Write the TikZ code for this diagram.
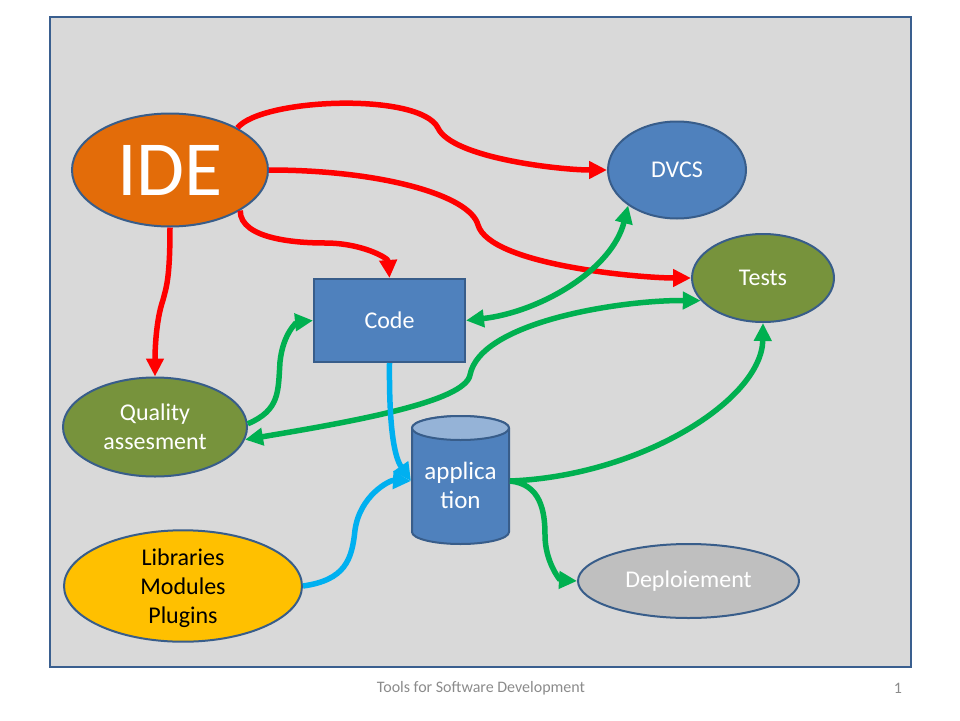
\documentclass[tikz,border=0pt]{standalone}
\usepackage{fontspec}
\setmainfont{Carlito}
\usetikzlibrary{shapes.geometric,arrows.meta}
\definecolor{bgc}{HTML}{D9D9D9}
\definecolor{frame}{HTML}{3A5F8F}
\definecolor{nborder}{HTML}{385D8A}
\definecolor{ideor}{HTML}{E36C09}
\definecolor{nblue}{HTML}{4F81BD}
\definecolor{ntop}{HTML}{95B3D7}
\definecolor{ngreen}{HTML}{77933C}
\definecolor{nyellow}{HTML}{FFC000}
\definecolor{ngray}{HTML}{BFBFBF}
\definecolor{cred}{HTML}{FF0000}
\definecolor{cgreen}{HTML}{00B050}
\definecolor{cblue}{HTML}{00B0F0}
\definecolor{foot}{HTML}{8B8B8B}
\tikzset{
  oval/.style={ellipse, draw=nborder, line width=2pt, inner sep=0pt, text=white, align=center, font=\fontsize{24}{29}\selectfont},
  box/.style={rectangle, draw=nborder, line width=2pt, inner sep=0pt, text=white, align=center, font=\fontsize{24}{29}\selectfont},
  tip/.tip={Triangle[length=18pt,width=17pt]},
  conn/.style={line width=5.5pt},
  redc/.style={conn, draw=cred, -tip},
  greenc/.style={conn, draw=cgreen, -tip},
  greenb/.style={conn, draw=cgreen, tip-tip},
  bluec/.style={conn, draw=cblue, -tip},
}
\begin{document}
\begin{tikzpicture}[x=1pt,y=-1pt]
\useasboundingbox (0,0) rectangle (960,720);
\draw[fill=bgc, draw=frame, line width=2pt] (50,17) rectangle (911,667);

% nodes
\node[oval, fill=ideor, minimum width=196pt, minimum height=113pt, font=\fontsize{78}{80}\selectfont] (ide) at (170,170) {IDE};
\node[oval, fill=nblue, minimum width=138pt, minimum height=97pt] (dvcs) at (677,170) {DVCS};
\node[oval, fill=ngreen, minimum width=142pt, minimum height=88pt] (tests) at (763,278) {Tests};
\node[box, fill=nblue, minimum width=151pt, minimum height=83pt] (code) at (389.5,320.5) {Code};
\node[oval, fill=ngreen, minimum width=184pt, minimum height=99pt] (qa) at (155,427) {Quality\\assesment};
\node[oval, fill=nyellow, minimum width=238pt, minimum height=99pt, text=black] (libs) at (183,586) {\raisebox{-2pt}[\height][\depth]{\parbox{120pt}{\centering Libraries\\Modules\\Plugins}}};
\node[oval, fill=ngray, minimum width=221pt, minimum height=74pt] (dep) at (688.5,581) {Deploiement};

% cylinder
\path[fill=nblue, draw=nborder, line width=2pt] (412,428) -- (412,532)
  arc[start angle=180, end angle=360, x radius=48.5pt, y radius=12pt]
  -- (509,428) arc[start angle=0, end angle=180, x radius=48.5pt, y radius=12pt] -- cycle;
\path[fill=ntop, draw=nborder, line width=2pt] (460.5,428) ellipse[x radius=48.5pt, y radius=12pt];
\node[box, draw=none, minimum width=97pt, minimum height=100pt, font=\fontsize{25}{29}\selectfont] (app) at (460.5,481) {\raisebox{-4pt}[\height][\depth]{\parbox{90pt}{\centering applica\\tion}}};

% red connectors
\draw[redc] (ide.32) .. controls (262,98) and (420,92) .. (438,128)
  .. controls (452,158) and (560,170) .. (dvcs.west);
\draw[redc] (ide.east) .. controls (380,170) and (470,195) .. (478,225)
  .. controls (490,265) and (640,278) .. (tests.west);
\draw[redc] (ide.-30) .. controls (240,240) and (300,243) .. (325,243)
  .. controls (362,243) and (388,258) .. (code.north);
\draw[redc] (ide.south) .. controls (170,280) and (166,288) .. (163,300)
  .. controls (156,320) and (155,350) .. (qa.north);

% green connectors
\draw[greenc] (qa.2) .. controls (280,410) and (278,392) .. (280,362)
  .. controls (283,332) and (298,322) .. (code.west);
\draw[greenb] (qa.-8) .. controls (350,422) and (465,402) .. (470,375)
  .. controls (480,322) and (620,300) .. (tests.200);
\draw[greenb] (code.east) .. controls (540,312) and (612,270) .. (dvcs.-144);
\draw[greenc] (app.east) .. controls (640,476) and (762,400) .. (tests.south);
\draw[greenc] (app.east) .. controls (540,484) and (545,510) .. (545,535)
  .. controls (545,562) and (560,580) .. (dep.west);

% blue connectors
\draw[bluec] (code.south) .. controls (389,420) and (393,455) .. (app.west);
\draw[bluec] (libs.east) .. controls (345,580) and (352,560) .. (355,530)
  .. controls (360,495) and (390,480) .. (app.west);

% footer
\node[text=foot, font=\fontsize{16}{18}\selectfont] (ftitle) at (481,688) {Tools for Software Development};
\node[text=foot, font=\fontsize{16}{18}\selectfont] (fnum) at (898,688) {1};
\end{tikzpicture}
\end{document}
